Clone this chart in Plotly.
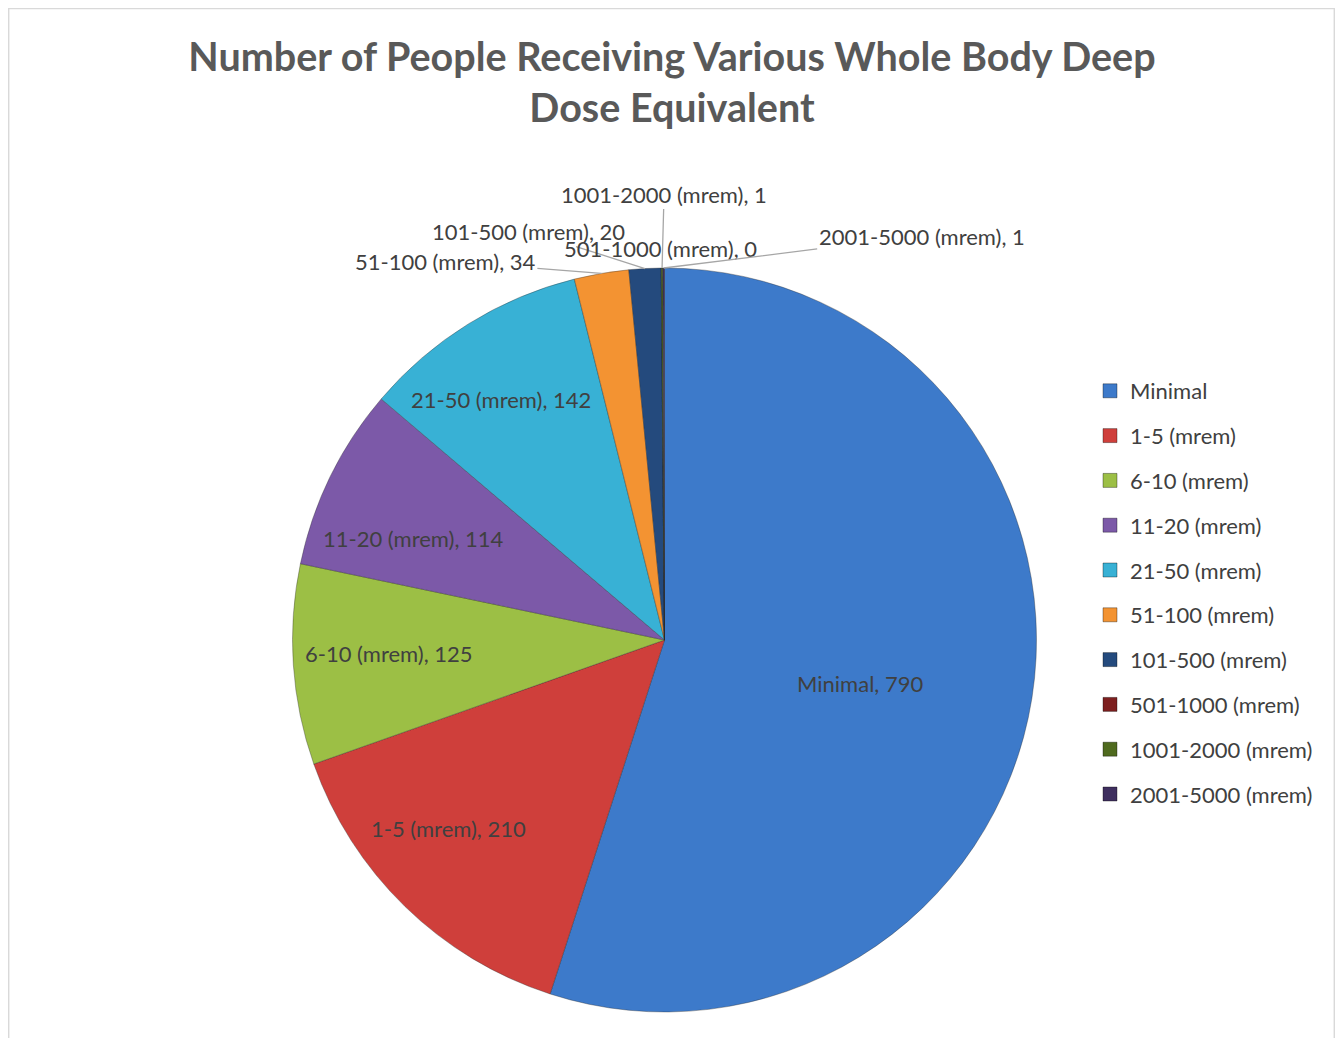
import math
import plotly.graph_objects as go

# ---------------- data ----------------
categories = ["Minimal", "1-5 (mrem)", "6-10 (mrem)", "11-20 (mrem)", "21-50 (mrem)",
              "51-100 (mrem)", "101-500 (mrem)", "501-1000 (mrem)", "1001-2000 (mrem)",
              "2001-5000 (mrem)"]
values = [790, 210, 125, 114, 142, 34, 20, 0, 1, 1]
colors = ["#3D7ACA", "#CF3F3B", "#9CBF45", "#7C59A8", "#38B1D5", "#F39332",
          "#244A7D", "#7D1F1F", "#4F6A1E", "#3F2F5F"]

# ---------------- layout constants (figure pixel space) ----------------
W, H = 1327, 1030
CX, CY, R = 656.5, 632.0, 372.0          # pie centre / radius in pixels
FONT = "Lato"
TXT = "#404040"
LBL = 22

# label placement: inside labels -> radial fraction + angular nudge; outside -> pixel offset (ax, ay)
label_mode = ["in", "in", "in", "in", "in", "out", "out", "out", "out", "out"]
label_rfrac = [0.539, 0.770, 0.742, 0.728, 0.783, None, None, None, None, None]
label_dangle = [3.7, 4.6, 1.0, -4.2, -2.4, 0, 0, 0, 0, 0]
label_offset = [None, None, None, None, None, (-156, -12), (-116, -37), (-1, -20), (2, -74), (258, -32)]
label_arrow = [False] * 5 + [True, True, False, True, True]

fig = go.Figure()
fig.add_trace(go.Pie(
    labels=categories, values=values, sort=False, direction="clockwise", rotation=0,
    marker=dict(colors=colors, line=dict(color="rgba(40,40,40,0.35)", width=1)),
    textinfo="none", hoverinfo="label+value", showlegend=False,
    domain=dict(x=[(CX - R) / W, (CX + R) / W], y=[(H - CY - R) / H, (H - CY + R) / H]),
))

# legend entries (one group each so spacing can be controlled)
for c, col in zip(categories, colors):
    fig.add_trace(go.Scatter(
        x=[None], y=[None], mode="markers", name=c, legendgroup=c,
        marker=dict(symbol="square", size=14, color=col, line=dict(color="rgba(0,0,0,0.35)", width=1)),
    ))

total = sum(values)
annotations = []
cum = 0.0
for i, (c, v) in enumerate(zip(categories, values)):
    a0 = cum / total * 360.0
    cum += v
    a1 = cum / total * 360.0
    mid = math.radians((a0 + a1) / 2 + label_dangle[i])
    text = f"{c}, {v}"
    font = dict(family=FONT, size=LBL, color=TXT)
    if label_mode[i] == "in":
        f = label_rfrac[i]
        px = CX + R * f * math.sin(mid)
        py = CY - R * f * math.cos(mid)
        annotations.append(dict(x=px / W, y=1 - py / H, xref="paper", yref="paper", text=text,
                                xanchor="center", yanchor="middle", showarrow=False, font=font))
    else:
        px = CX + R * math.sin(mid)
        py = CY - R * math.cos(mid)
        ax, ay = label_offset[i]
        if label_arrow[i]:
            annotations.append(dict(x=px / W, y=1 - py / H, xref="paper", yref="paper", text=text,
                                    showarrow=True, arrowhead=0, arrowwidth=1.3, arrowcolor="#A6A6A6",
                                    ax=ax, ay=ay, standoff=0, font=font))
        else:
            annotations.append(dict(x=(px + ax) / W, y=1 - (py + ay) / H, xref="paper", yref="paper",
                                    text=text, xanchor="center", yanchor="middle",
                                    showarrow=False, font=font))

fig.update_layout(
    width=W, height=H, margin=dict(l=0, r=0, t=0, b=0),
    paper_bgcolor="white", plot_bgcolor="white",
    title=dict(text="<b>Number of People Receiving Various Whole Body Deep<br>Dose Equivalent</b>",
               x=664 / W, xref="container", xanchor="center",
               y=1 - 63 / H, yref="container", yanchor="middle",
               font=dict(family=FONT, size=39.5, color="#595959")),
    xaxis=dict(visible=False), yaxis=dict(visible=False),
    legend=dict(x=1082 / W, y=1 - 362 / H, xanchor="left", yanchor="top",
                font=dict(family=FONT, size=LBL, color=TXT), tracegroupgap=13.2,
                itemwidth=30, bgcolor="rgba(0,0,0,0)"),
    annotations=annotations,
    shapes=[dict(type="rect", xref="paper", yref="paper", x0=0.0005, x1=0.9995,
                 y0=-0.02, y1=0.9995, line=dict(color="#D9D9D9", width=1.5))],
)

fig.write_html("out.html")
